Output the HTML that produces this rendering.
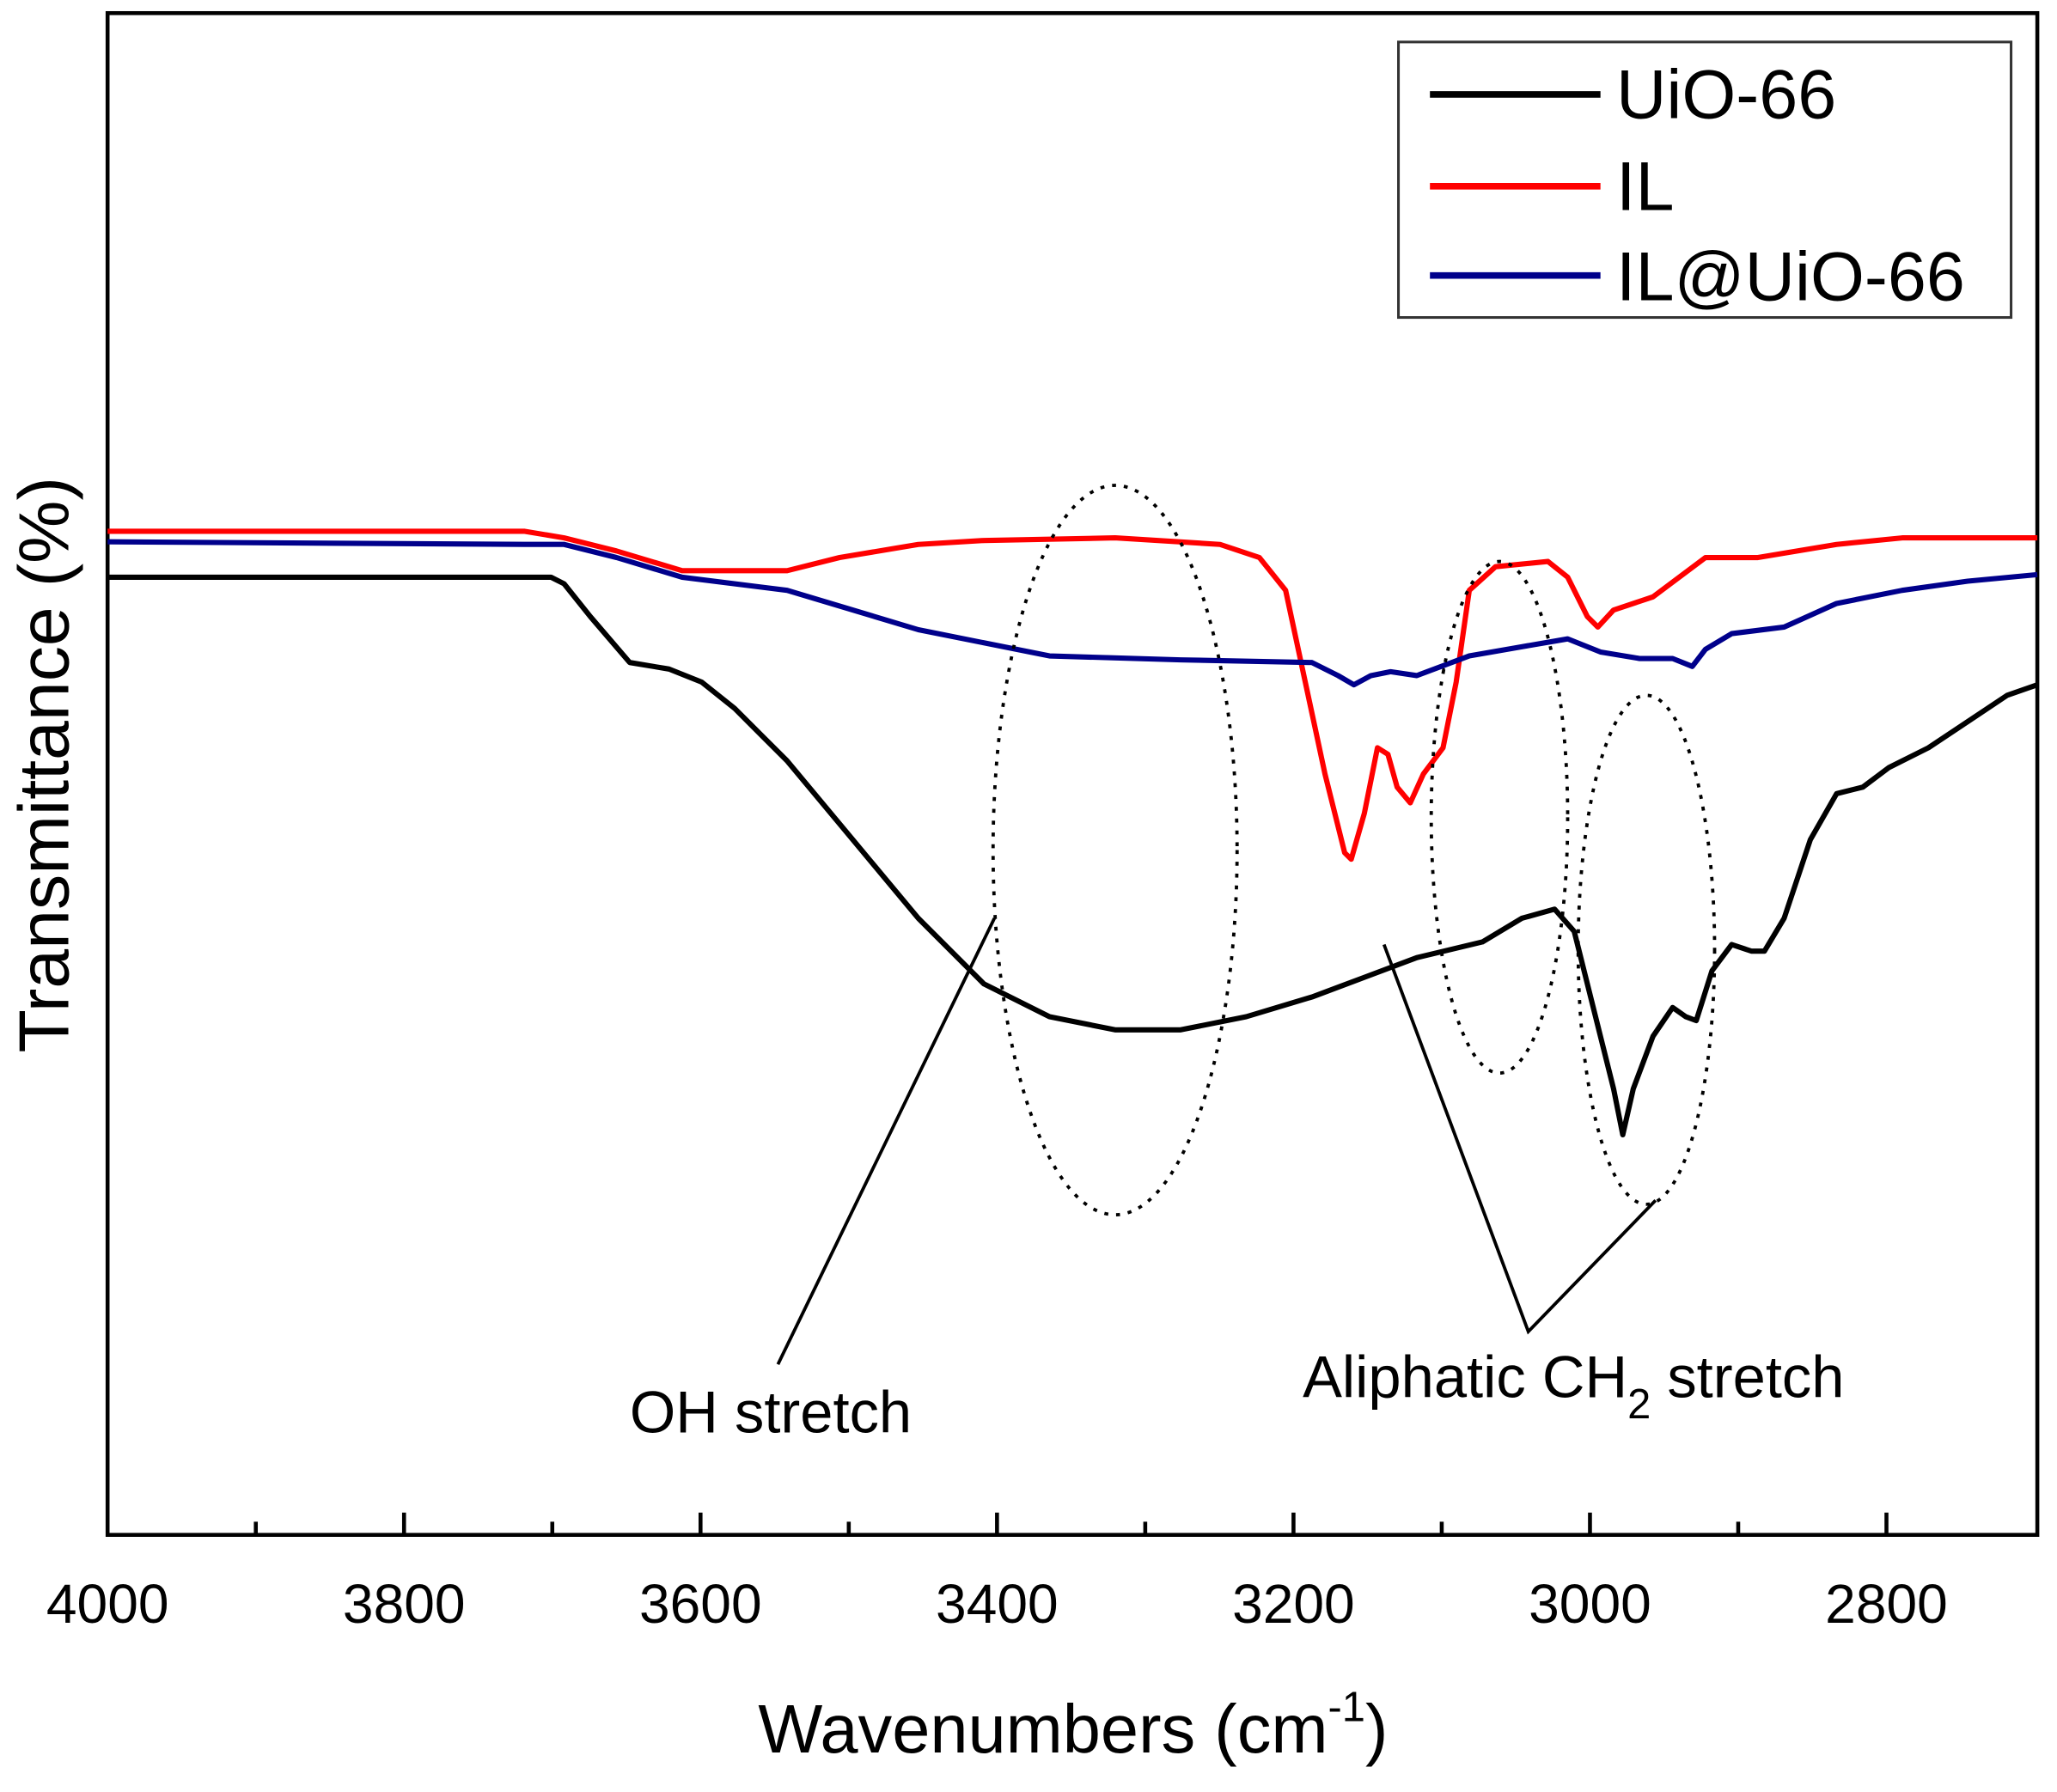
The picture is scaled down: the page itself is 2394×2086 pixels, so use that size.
<!DOCTYPE html>
<html><head><meta charset="utf-8"><style>html,body{margin:0;padding:0;background:#fff}svg{display:block}</style></head><body>
<svg width="2394" height="2086" viewBox="0 0 1568 1366" preserveAspectRatio="none" xmlns="http://www.w3.org/2000/svg" font-family="Liberation Sans, Arial, sans-serif">
<rect width="1568" height="1366" fill="#fff"/>
<g stroke="#000" stroke-width="3" fill="none">
<rect x="82" y="10" width="1471" height="1160"/>
<path d="M308 1170v-17M534 1170v-17M760 1170v-17M986 1170v-17M1212 1170v-17M1438 1170v-17M195 1170v-10M421 1170v-10M647 1170v-10M873 1170v-10M1099 1170v-10M1325 1170v-10"/>
</g>
<g font-size="42" text-anchor="middle" fill="#000">
<text x="82" y="1237">4000</text><text x="308" y="1237">3800</text><text x="534" y="1237">3600</text><text x="760" y="1237">3400</text><text x="986" y="1237">3200</text><text x="1212" y="1237">3000</text><text x="1438" y="1237">2800</text>
</g>
<text x="818" y="1336" font-size="52" text-anchor="middle">Wavenumbers (cm<tspan font-size="32" dy="-24">-1</tspan><tspan dy="24">)</tspan></text>
<text transform="translate(52,583) rotate(-90)" font-size="54" text-anchor="middle">Transmittance (%)</text>
<g fill="none" stroke-linejoin="round" stroke-width="4">
<polyline stroke="#000" points="82,440 420,440 430,445 450,470 480,505 510,510 535,520 560,540 600,580 650,640 700,700 750,750 800,775 850,785 900,785 950,775 1000,760 1040,745 1080,730 1130,718 1160,700 1185,693 1200,710 1215,770 1230,830 1237,865 1245,830 1260,790 1275,768 1285,775 1293,778 1305,740 1320,720 1335,725 1345,725 1360,700 1380,640 1400,605 1420,600 1440,585 1470,570 1500,550 1530,530 1553,522"/>
<polyline stroke="#f00" points="82,405 400,405 430,410 470,420 520,435 600,435 640,425 700,415 750,412 850,410 930,415 960,425 980,450 995,520 1010,590 1025,650 1030,655 1040,620 1050,570 1058,575 1065,600 1075,612 1085,590 1100,570 1110,520 1120,450 1140,432 1180,428 1195,440 1210,470 1218,478 1230,465 1260,455 1280,440 1300,425 1340,425 1400,415 1450,410 1553,410"/>
<polyline stroke="#00008b" points="82,413 400,415 430,415 470,425 520,440 600,450 650,465 700,480 750,490 800,500 900,503 1000,505 1020,515 1032,522 1045,515 1060,512 1080,515 1120,500 1160,493 1195,487 1220,497 1250,502 1275,502 1290,508 1300,495 1320,483 1360,478 1400,460 1450,450 1500,443 1553,438"/>
</g>
<g fill="none" stroke="#000" stroke-width="2.5" stroke-dasharray="3,6">
<ellipse cx="850" cy="648" rx="93" ry="278"/>
<ellipse cx="1143" cy="623" rx="52" ry="195"/>
<ellipse cx="1255" cy="724" rx="52" ry="194"/>
</g>
<g stroke="#000" stroke-width="2.5" fill="none">
<path d="M593 1040L758 700M1055 720L1165 1015L1262 915"/>
</g>
<text x="480" y="1092" font-size="45">OH stretch</text>
<text x="993" y="1065" font-size="45">Aliphatic CH<tspan font-size="32" dy="16">2</tspan><tspan dy="-16"> stretch</tspan></text>
<rect x="1066" y="32" width="467" height="210" fill="#fff" stroke="#333" stroke-width="2"/>
<g stroke-width="5"><path d="M1090 72h130" stroke="#000"/><path d="M1090 142h130" stroke="#f00"/><path d="M1090 210h130" stroke="#00008b"/></g>
<g font-size="53"><text x="1232" y="90">UiO-66</text><text x="1232" y="160">IL</text><text x="1232" y="229">IL@UiO-66</text></g>
</svg>
</body></html>
